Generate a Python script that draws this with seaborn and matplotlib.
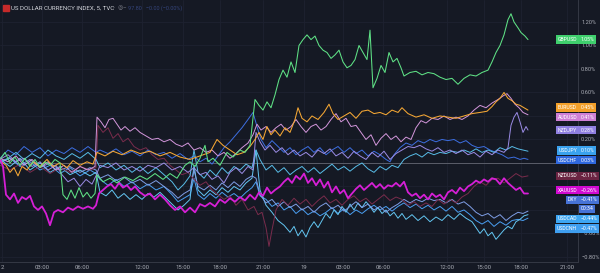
import numpy as np
import matplotlib
matplotlib.use("Agg")
import matplotlib.pyplot as plt
import seaborn as sns
from matplotlib.patches import Rectangle

# ---------------- data (percent change vs. start, x = 5-min bar index) ----------------
GBP_X = [0,5,10,15,20,25,30,35,40,45,50,55,60,
         63,67,71,75,79,83,87,91,95,
         97,103,110,117,125,133,140,147,155,163,170,177,
         185,190,195,200,205,208,213,220,227,233,240,245,250,
         255,259,263,267,271,275,279,283,287,291,295,299,303,307,311,315,319,323,327,331,
         335,339,343,347,351,355,359,363,367,370,373,377,381,385,389,393,397,401,404,
         410,416,422,428,434,440,446,452,458,464,470,476,482,488,492,496,500,504,508,511,
         514,518,521,525,528]
GBP_V = [0.03,0.09,0.00,0.05,-0.02,0.04,-0.03,0.03,-0.04,0.01,-0.02,0.03,0.00,
         -0.27,-0.31,-0.23,-0.30,-0.21,-0.29,-0.25,-0.30,-0.26,
         -0.10,-0.16,-0.13,-0.17,-0.12,-0.15,-0.11,-0.14,-0.09,-0.14,-0.09,-0.13,
         -0.02,0.01,-0.03,0.04,0.15,0.01,0.04,-0.02,0.09,0.05,0.11,0.09,0.15,
         0.54,0.49,0.45,0.52,0.47,0.58,0.71,0.79,0.73,0.86,0.77,1.00,1.05,1.09,1.05,1.08,1.00,0.96,0.94,0.89,
         0.92,0.96,0.86,0.81,0.83,0.88,1.00,0.94,0.88,1.13,0.64,0.72,0.83,0.77,0.94,0.86,0.89,0.81,0.74,
         0.77,0.78,0.75,0.77,0.76,0.73,0.71,0.72,0.67,0.72,0.75,0.74,0.77,0.79,0.86,0.94,1.00,1.09,1.22,1.27,
         1.20,1.15,1.11,1.08,1.05]

EUR_X = [0,6,10,14,18,22,27,33,40,47,53,60,67,73,80,87,93,97,105,113,
         122,131,140,150,160,170,180,190,200,210,217,223,230,237,244,250,255,259,263,267,
         271,275,280,285,290,295,298,302,307,312,318,324,329,333,338,344,350,356,362,368,
         374,380,386,392,398,402,408,416,424,432,440,448,456,464,472,480,487,492,496,500,
         504,508,512,516,520,524,528]
EUR_V = [0.02,-0.02,-0.08,-0.04,-0.11,-0.03,-0.06,0.01,-0.03,0.03,-0.03,0.00,-0.04,0.02,-0.02,0.01,-0.01,0.09,0.06,0.10,
         0.07,0.11,0.08,0.10,0.06,0.09,0.05,0.03,0.06,0.09,0.20,0.15,0.11,0.07,0.09,0.14,0.20,0.26,0.20,0.31,
         0.24,0.28,0.23,0.30,0.26,0.37,0.47,0.38,0.35,0.40,0.37,0.43,0.50,0.42,0.37,0.40,0.43,0.38,0.44,0.45,
         0.42,0.43,0.41,0.45,0.43,0.47,0.42,0.39,0.41,0.38,0.40,0.39,0.38,0.40,0.42,0.43,0.44,0.48,0.52,0.55,
         0.60,0.55,0.53,0.50,0.49,0.47,0.45]

AUD_X = [0,8,16,24,32,40,48,56,64,72,80,88,95,97,101,105,109,113,117,121,
         125,130,135,140,146,152,158,164,170,176,182,188,194,200,206,212,218,224,230,236,
         242,248,253,257,261,266,271,276,281,286,291,296,301,306,311,316,321,326,331,336,
         341,346,351,356,361,366,371,376,381,386,391,396,401,406,411,416,421,426,432,438,
         444,450,456,462,468,474,480,486,492,498,503,507,511,515,519,523,528]
AUD_V = [0.04,0.01,0.06,-0.02,0.03,-0.04,0.01,-0.06,-0.02,-0.08,-0.03,-0.06,-0.03,0.39,0.35,0.30,0.37,0.38,0.33,0.28,
         0.31,0.27,0.30,0.26,0.23,0.20,0.21,0.18,0.20,0.16,0.14,0.17,0.11,0.13,0.09,0.11,0.06,0.09,0.04,0.08,
         0.13,0.17,0.24,0.33,0.28,0.31,0.26,0.30,0.33,0.28,0.31,0.37,0.31,0.26,0.31,0.33,0.28,0.31,0.37,0.42,
         0.35,0.38,0.31,0.32,0.26,0.20,0.24,0.15,0.21,0.25,0.20,0.23,0.18,0.22,0.20,0.30,0.36,0.34,0.38,0.37,
         0.40,0.37,0.39,0.37,0.40,0.45,0.49,0.47,0.51,0.54,0.57,0.59,0.55,0.50,0.47,0.43,0.41]

NZJ_X = [0,8,16,24,32,40,48,56,62,68,74,80,86,92,96,100,108,116,124,132,
         140,148,156,164,172,180,188,194,200,206,212,218,224,230,236,242,248,253,256,260,
         265,270,276,282,288,294,300,306,312,318,324,330,336,342,348,354,360,366,372,378,
         384,390,396,402,408,414,420,426,432,438,444,450,456,462,468,474,480,486,492,498,
         504,508,511,514,517,520,523,526,528]
NZJ_V = [0.03,0.07,0.01,0.04,-0.03,0.01,-0.06,-0.02,-0.10,-0.16,-0.13,-0.20,-0.14,-0.18,-0.11,-0.02,-0.04,0.00,-0.06,-0.03,
         -0.07,-0.02,-0.04,0.00,-0.06,-0.03,-0.08,-0.04,-0.10,-0.08,-0.14,-0.11,-0.17,-0.08,-0.04,-0.09,-0.03,-0.06,0.26,0.18,
         0.11,0.15,0.09,0.13,0.07,0.11,0.06,0.09,0.05,0.11,0.08,0.12,0.06,0.09,0.04,0.10,0.06,0.03,0.09,0.05,
         0.10,0.03,0.08,0.11,0.14,0.13,0.15,0.12,0.10,0.13,0.09,0.11,0.08,0.11,0.07,0.09,0.05,0.10,0.07,0.11,
         0.09,0.13,0.32,0.39,0.43,0.35,0.26,0.31,0.28]

JPY_X = [0,8,16,24,32,40,48,56,64,72,80,88,96,100,108,116,124,132,140,148,
         156,164,172,178,184,190,194,198,204,210,216,222,228,234,240,246,252,256,260,266,
         272,278,284,290,296,302,308,314,320,326,332,338,344,350,356,362,368,374,380,386,
         392,398,404,410,416,422,428,434,440,446,452,458,464,470,476,482,488,494,500,506,
         512,518,523,528]
JPY_V = [0.01,0.04,0.09,0.03,0.08,0.04,0.11,0.06,0.03,0.08,0.04,0.09,0.03,-0.04,0.00,-0.06,-0.02,-0.08,-0.03,-0.09,
         -0.04,-0.10,-0.16,-0.23,-0.18,-0.11,0.11,-0.08,-0.13,-0.06,-0.11,-0.04,-0.09,-0.03,-0.06,-0.01,-0.04,0.11,0.03,-0.06,
         -0.02,-0.08,-0.04,-0.10,-0.06,-0.03,-0.08,-0.04,-0.09,-0.05,-0.01,-0.06,-0.03,-0.07,-0.03,0.00,-0.05,-0.08,-0.03,-0.06,
         -0.02,-0.04,0.03,0.06,0.08,0.05,0.09,0.07,0.09,0.08,0.10,0.09,0.11,0.09,0.12,0.09,0.11,0.09,0.13,0.11,
         0.14,0.12,0.11,0.10]

CHF_X = [0,8,16,24,32,40,48,56,64,72,80,88,96,100,108,116,124,132,140,148,
         156,164,172,180,188,194,200,206,212,218,224,230,236,242,248,253,257,261,266,272,
         278,284,290,296,302,308,314,320,326,332,338,344,350,356,362,368,374,380,386,390,
         394,400,406,412,418,424,430,436,442,448,454,460,466,472,478,484,490,496,502,508,
         514,520,524,528]
CHF_V = [0.04,0.11,0.07,0.14,0.09,0.13,0.06,0.11,0.08,0.13,0.09,0.14,0.09,0.11,0.08,0.12,0.07,0.10,0.06,0.11,
         0.07,0.09,0.04,0.08,0.03,0.06,0.01,0.04,-0.01,0.06,0.13,0.18,0.24,0.30,0.37,0.43,0.31,0.20,0.13,0.19,
         0.14,0.09,0.13,0.07,0.11,0.14,0.09,0.13,0.07,0.11,0.14,0.09,0.13,0.08,0.11,0.06,0.10,0.07,0.03,0.01,
         0.07,0.13,0.17,0.15,0.19,0.17,0.20,0.18,0.20,0.19,0.20,0.17,0.19,0.15,0.13,0.14,0.11,0.09,0.07,0.04,
         0.05,0.03,0.04,0.03]

NZD_X = [0,10,20,30,40,50,60,70,80,90,96,98,103,108,113,118,123,128,134,140,
         146,152,158,164,170,176,182,188,194,200,206,212,218,224,230,236,242,248,254,258,
         262,266,269,272,276,282,288,294,300,306,312,318,324,330,336,342,348,354,360,366,
         372,378,384,390,396,402,408,414,420,426,432,438,444,450,456,462,468,474,480,486,
         492,498,504,510,516,522,528]
NZD_V = [-0.02,-0.06,-0.01,-0.08,-0.03,-0.09,-0.04,-0.08,-0.03,-0.06,-0.04,0.32,0.26,0.30,0.21,0.25,0.18,0.21,0.14,0.11,
         0.13,0.07,0.03,0.04,-0.02,-0.06,-0.10,-0.08,-0.14,-0.19,-0.16,-0.23,-0.27,-0.31,-0.28,-0.36,-0.31,-0.40,-0.37,-0.44,
         -0.42,-0.55,-0.71,-0.57,-0.40,-0.31,-0.36,-0.30,-0.35,-0.31,-0.37,-0.32,-0.28,-0.34,-0.31,-0.36,-0.31,-0.28,-0.33,-0.30,
         -0.35,-0.31,-0.27,-0.32,-0.29,-0.31,-0.36,-0.33,-0.37,-0.34,-0.37,-0.31,-0.35,-0.31,-0.34,-0.29,-0.26,-0.20,-0.16,-0.19,
         -0.14,-0.13,-0.17,-0.13,-0.09,-0.12,-0.11]

XAU_X = [0,3,6,10,14,18,22,26,30,34,38,42,46,50,54,58,63,68,73,78,
         83,88,93,96,99,103,107,111,115,119,123,127,131,135,140,145,150,155,160,165,
         170,175,180,185,190,195,200,205,210,215,220,225,230,235,240,245,250,255,259,263,
         267,271,275,280,284,288,292,296,300,304,308,312,316,320,324,328,332,336,340,344,
         348,352,356,360,364,368,372,376,380,384,388,392,396,400,404,408,412,416,420,424,
         428,432,436,440,444,448,452,456,460,464,468,472,476,480,484,488,492,496,500,504,
         508,512,516,520,524,528]
XAU_V = [0.04,-0.03,-0.27,-0.31,-0.26,-0.34,-0.29,-0.31,-0.28,-0.37,-0.40,-0.37,-0.43,-0.53,-0.42,-0.40,-0.42,-0.38,-0.40,-0.37,
         -0.39,-0.37,-0.39,-0.36,-0.26,-0.23,-0.20,-0.18,-0.22,-0.17,-0.21,-0.19,-0.23,-0.20,-0.25,-0.28,-0.26,-0.31,-0.27,-0.31,
         -0.36,-0.40,-0.37,-0.42,-0.38,-0.42,-0.35,-0.37,-0.34,-0.37,-0.31,-0.34,-0.30,-0.33,-0.29,-0.32,-0.27,-0.31,-0.25,-0.28,
         -0.21,-0.26,-0.23,-0.20,-0.16,-0.13,-0.17,-0.11,-0.14,-0.09,-0.17,-0.13,-0.19,-0.14,-0.21,-0.16,-0.25,-0.20,-0.26,-0.23,
         -0.30,-0.26,-0.22,-0.19,-0.23,-0.20,-0.17,-0.21,-0.18,-0.22,-0.19,-0.20,-0.17,-0.20,-0.16,-0.25,-0.28,-0.26,-0.30,-0.27,
         -0.31,-0.26,-0.29,-0.27,-0.31,-0.25,-0.23,-0.26,-0.21,-0.24,-0.20,-0.18,-0.15,-0.17,-0.14,-0.16,-0.13,-0.14,-0.18,-0.13,
         -0.17,-0.20,-0.23,-0.21,-0.26,-0.26]

DXY_X = [0,10,20,30,40,50,60,70,80,90,96,100,108,116,124,132,140,148,156,164,
         172,178,184,190,194,198,204,210,216,222,228,234,240,246,252,256,260,266,272,278,
         284,290,296,302,308,314,320,326,332,338,344,350,356,362,368,374,380,386,392,398,
         404,410,416,422,428,434,440,446,452,458,464,470,476,482,488,494,500,506,512,518,
         523,528]
DXY_V = [0.01,0.04,-0.02,0.03,-0.04,0.00,-0.06,-0.03,-0.08,-0.04,-0.06,-0.13,-0.10,-0.15,-0.12,-0.17,-0.14,-0.19,-0.15,-0.20,
         -0.25,-0.30,-0.26,-0.23,-0.06,-0.20,-0.23,-0.19,-0.23,-0.17,-0.21,-0.16,-0.20,-0.14,-0.11,-0.13,-0.27,-0.34,-0.31,-0.37,
         -0.33,-0.38,-0.35,-0.40,-0.37,-0.42,-0.37,-0.34,-0.39,-0.36,-0.41,-0.37,-0.33,-0.38,-0.35,-0.40,-0.37,-0.42,-0.38,-0.35,
         -0.31,-0.34,-0.31,-0.33,-0.30,-0.32,-0.31,-0.34,-0.31,-0.35,-0.33,-0.37,-0.42,-0.45,-0.43,-0.47,-0.44,-0.49,-0.45,-0.42,
         -0.43,-0.41]

CAD_X = [0,10,20,30,40,50,60,70,80,90,96,100,106,112,118,124,130,136,142,148,
         154,160,166,172,178,184,190,194,198,204,210,216,222,228,234,240,246,252,256,260,
         266,272,278,284,290,294,298,302,306,310,314,318,322,326,330,334,338,342,346,350,
         354,358,362,366,370,374,378,382,386,390,394,398,402,406,412,418,424,430,436,442,
         448,454,460,466,472,476,480,484,488,492,496,500,504,508,512,516,520,524,528]
CAD_V = [0.03,-0.03,0.04,-0.06,0.00,-0.08,-0.03,-0.10,-0.06,-0.11,-0.08,-0.25,-0.28,-0.23,-0.30,-0.26,-0.31,-0.27,-0.31,-0.26,
         -0.29,-0.25,-0.30,-0.35,-0.40,-0.36,-0.31,-0.02,-0.23,-0.28,-0.23,-0.27,-0.21,-0.25,-0.20,-0.23,-0.17,-0.13,0.11,-0.23,
         -0.36,-0.42,-0.49,-0.53,-0.59,-0.54,-0.62,-0.57,-0.63,-0.55,-0.50,-0.55,-0.49,-0.43,-0.47,-0.40,-0.44,-0.37,-0.42,-0.35,
         -0.40,-0.34,-0.38,-0.33,-0.37,-0.42,-0.38,-0.43,-0.40,-0.45,-0.42,-0.47,-0.43,-0.48,-0.44,-0.49,-0.45,-0.50,-0.46,-0.49,
         -0.44,-0.48,-0.43,-0.47,-0.50,-0.55,-0.60,-0.56,-0.62,-0.59,-0.65,-0.61,-0.57,-0.54,-0.56,-0.50,-0.48,-0.45,-0.44]

CNH_X = [0,10,20,30,40,50,60,70,80,90,96,100,108,116,124,132,140,148,156,164,
         172,178,184,190,194,198,204,210,216,222,228,234,240,246,252,256,260,266,272,278,
         284,290,296,302,308,314,320,326,332,338,344,350,356,362,368,374,380,386,392,398,
         404,410,416,422,428,434,440,446,452,458,464,470,476,482,488,494,500,506,512,518,
         523,528]
CNH_V = [0.00,0.04,-0.03,0.01,-0.06,-0.02,-0.09,-0.04,-0.11,-0.06,-0.09,-0.14,-0.19,-0.14,-0.20,-0.16,-0.22,-0.18,-0.23,-0.20,
         -0.27,-0.33,-0.30,-0.27,-0.13,-0.27,-0.31,-0.26,-0.30,-0.25,-0.29,-0.26,-0.30,-0.25,-0.21,-0.16,-0.28,-0.31,-0.37,-0.34,
         -0.40,-0.37,-0.43,-0.39,-0.44,-0.41,-0.45,-0.42,-0.38,-0.43,-0.39,-0.44,-0.40,-0.43,-0.39,-0.36,-0.40,-0.37,-0.41,-0.37,
         -0.34,-0.38,-0.35,-0.39,-0.36,-0.40,-0.37,-0.41,-0.37,-0.42,-0.40,-0.44,-0.49,-0.52,-0.49,-0.54,-0.50,-0.53,-0.49,-0.48,
         -0.49,-0.47]

TICK_POS = [2, 42, 82, 142, 183, 220, 263, 304, 343, 383, 447, 484, 521, 567]
TICK_LABELS = ["2", "03:00", "06:00", "12:00", "15:00", "18:00", "21:00",
               "19", "03:00", "06:00", "12:00", "15:00", "18:00", "21:00"]

# name, x, values, line colour, label colour, line width  (drawn in this order)
SERIES = [
    ("USDCNH", CNH_X, CNH_V, "#4a9ff2", "#3f9ff0", 0.7),
    ("USDCAD", CAD_X, CAD_V, "#63c6f2", "#3ea6f2", 0.7),
    ("DXY",    DXY_X, DXY_V, "#7f9ee6", "#4672d6", 0.7),
    ("NZDUSD", NZD_X, NZD_V, "#7a2c4c", "#6b2442", 0.7),
    ("USDCHF", CHF_X, CHF_V, "#3d6fe2", "#2f68df", 0.7),
    ("USDJPY", JPY_X, JPY_V, "#58bde8", "#3aa2ee", 0.7),
    ("NZDJPY", NZJ_X, NZJ_V, "#9b8ce6", "#8f7fe0", 0.7),
    ("AUDUSD", AUD_X, AUD_V, "#d497dc", "#cf7fd6", 0.7),
    ("EURUSD", EUR_X, EUR_V, "#f5a734", "#f3a02a", 0.75),
    ("XAUUSD", XAU_X, XAU_V, "#d61fd6", "#d10ad1", 1.3),
    ("GBPUSD", GBP_X, GBP_V, "#5fe286", "#3fcf6d", 0.75),
]

for name, xs, vs, *_ in SERIES:
    if len(xs) != len(vs):
        raise ValueError(f"{name}: {len(xs)} x vs {len(vs)} values")

# ---------------- style ----------------
sns.set_theme(style="dark")
BG = "#151924"
GRID = "#1e2230"
TXT = "#a9acb5"
plt.rcParams["font.family"] = ["Roboto", "DejaVu Sans"]
plt.rcParams["axes.facecolor"] = BG
plt.rcParams["figure.facecolor"] = BG

W, H = 600, 273
fig = plt.figure(figsize=(W / 100, H / 100), dpi=100)
ax = fig.add_axes([0, 11 / H, 578 / W, 262 / H])
ax.set_facecolor(BG)

YMIN, YMAX = -0.843, 1.387
ax.set_xlim(0, 578)
ax.set_ylim(YMIN, YMAX)

# grid
yt = np.round(np.arange(-0.8, 1.21, 0.2), 2)
for t in TICK_POS:
    ax.axvline(t, color=GRID, lw=0.6, zorder=0)
for t in yt:
    ax.axhline(t, color=GRID, lw=0.6, zorder=0)
ax.axhline(0, color="#6b6e79", lw=0.55, zorder=1)

for i, (name, xs, vs, lc, bc, lw) in enumerate(SERIES):
    sns.lineplot(x=xs, y=vs, ax=ax, color=lc, linewidth=lw, estimator=None,
                 sort=False, legend=False, zorder=2 + i * 0.1)

# ---------------- right-hand labels with overlap avoidance ----------------
items = []
for name, xs, vs, lc, bc, lw in SERIES:
    items.append({"name": name, "v": vs[-1], "pos": vs[-1], "col": bc,
                  "extra": 0.078 if name == "DXY" else 0.0})
items.sort(key=lambda d: -d["v"])
half = 0.041
for _ in range(200):
    moved = False
    for a, b in zip(items[:-1], items[1:]):
        a_bot = a["pos"] - half - a["extra"]
        b_top = b["pos"] + half
        if a_bot < b_top - 1e-4:
            d = b_top - a_bot
            a["pos"] += d / 2
            b["pos"] -= d / 2
            moved = True
    if not moved:
        break


def covered(t):
    for it in items:
        top = it["pos"] + half
        bot = it["pos"] - half - it["extra"]
        if bot <= t <= top:
            return True
    return False


# axes cosmetics
ax.set_xlabel("")
ax.set_ylabel("")
ax.set_xticks(TICK_POS)
ax.set_xticklabels(TICK_LABELS)
ax.set_yticks(yt)
ylabels = []
for v in yt:
    s = f"{v:.2f}%" if v >= 0 else f"\u2212{abs(v):.2f}%"
    ylabels.append("" if covered(v) else s)
ax.set_yticklabels(ylabels)
ax.yaxis.tick_right()
ax.tick_params(axis="x", length=0, pad=2.2, labelsize=4.3, colors=TXT)
ax.tick_params(axis="y", length=0, pad=2.2, labelsize=4.1, colors=TXT)
ax.grid(False)
for s in ["top", "left"]:
    ax.spines[s].set_visible(False)
for s in ["right", "bottom"]:
    ax.spines[s].set_visible(True)
    ax.spines[s].set_color("#343844")
    ax.spines[s].set_linewidth(0.7)

for it in items:
    val = it["v"]
    vs_txt = f"{val:.2f}%" if val >= 0 else f"\u2212{abs(val):.2f}%"
    kw = dict(va="center", fontsize=3.7, color="white", zorder=20, clip_on=False,
              bbox=dict(boxstyle="square,pad=0.32", fc=it["col"], ec="none"))
    ax.text(577, it["pos"], it["name"], ha="right", **kw)
    ax.text(580.5, it["pos"], vs_txt, ha="left", **kw)
    if it["name"] == "DXY":
        ax.text(580.5, it["pos"] - 0.075, "00:34", ha="left", **kw)

# ---------------- header ----------------
fig.patches.append(Rectangle((3 / W, 1 - 11 / H), 6 / W, 6 / H, transform=fig.transFigure,
                             color="#c62a2a", zorder=5))
fig.text(6 / W, 1 - 8 / H, "E", fontsize=3.2, color="white", ha="center", va="center")
fig.text(11 / W, 1 - 8 / H, "US DOLLAR CURRENCY INDEX, 5, TVC", fontsize=4.4,
         color="#d6d8de", ha="left", va="center")
fig.text(114 / W, 1 - 8 / H, "\u00b7  \u25ce\u2013", fontsize=4.0, color="#8a8d96",
         ha="left", va="center")
fig.text(128 / W, 1 - 8 / H, "97.80   \u22120.00 (\u22120.00%)", fontsize=4.0,
         color="#34447a", ha="left", va="center")

fig.savefig("out.png", dpi=100, facecolor=BG)
